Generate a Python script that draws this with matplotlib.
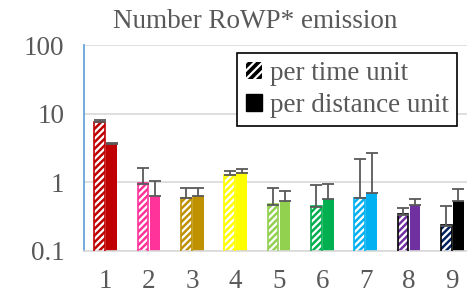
import matplotlib
matplotlib.use("Agg")
import matplotlib.pyplot as plt
from matplotlib.patches import Patch
import numpy as np

categories = ["1", "2", "3", "4", "5", "6", "7", "8", "9"]
per_time = [7.6, 0.96, 0.59, 1.28, 0.47, 0.44, 0.59, 0.34, 0.23]
per_time_top = [8.1, 1.62, 0.84, 1.46, 0.83, 0.90, 2.17, 0.43, 0.45]
per_dist = [3.67, 0.63, 0.63, 1.39, 0.53, 0.565, 0.69, 0.46, 0.53]
per_dist_top = [3.8, 1.03, 0.84, 1.58, 0.75, 0.935, 2.71, 0.58, 0.79]
colors = ["#C00000", "#FF3399", "#BF9000", "#FFFF00", "#92D050",
          "#00B050", "#00B0F0", "#7030A0", "#000000"]
stripe_colors = colors[:8] + ["#002060"]
edge_colors = colors[:7] + ["#000000", "#000000"]

plt.rcParams["font.family"] = ["Liberation Serif", "DejaVu Serif"]
plt.rcParams["hatch.linewidth"] = 1.6
TXT = "#595959"
FS = 19.5

fig = plt.figure(figsize=(4.67, 2.95), dpi=100)
ax = fig.add_axes([84 / 467, 1 - 251 / 295, 390 / 467, 206 / 295])

x = np.arange(len(categories))
w = 0.25
off = 0.14

# hatched bars: coloured face with white stripes, then an outline
ax.bar(x - off, per_time, w, bottom=0.01, color=stripe_colors, edgecolor="white",
       hatch="/////", linewidth=0, zorder=2)
ax.bar(x - off, per_time, w, bottom=0.01, fill=False, edgecolor=edge_colors,
       linewidth=1.2, zorder=3)
ax.bar(x + off, per_dist, w, bottom=0.01, color=colors, linewidth=0, zorder=2)

err_t = [np.zeros(9), np.array(per_time_top) - np.array(per_time)]
err_d = [np.zeros(9), np.array(per_dist_top) - np.array(per_dist)]
ax.errorbar(x - off, per_time, yerr=err_t, fmt="none", ecolor=TXT,
            elinewidth=1.3, capsize=4, capthick=1.3, zorder=4)
ax.errorbar(x + off, per_dist, yerr=err_d, fmt="none", ecolor=TXT,
            elinewidth=1.3, capsize=4, capthick=1.3, zorder=4)

ax.set_yscale("log")
ax.set_ylim(0.1, 100)
ax.set_xlim(-0.5, 8.5)
ax.set_yticks([0.1, 1, 10, 100])
ax.set_yticklabels(["0.1", "1", "10", "100"])
ax.minorticks_off()
ax.set_xticks(x)
ax.set_xticklabels(categories)
ax.tick_params(length=0, labelsize=FS, colors=TXT)
ax.tick_params(axis="x", pad=13)
ax.tick_params(axis="y", pad=14)
ax.grid(axis="y", color="#D9D9D9", linewidth=1.2, zorder=0)
ax.set_axisbelow(True)
for s in ["top", "right"]:
    ax.spines[s].set_visible(False)
ax.spines["bottom"].set_color("#D9D9D9")
ax.spines["bottom"].set_linewidth(1.2)
ax.spines["left"].set_color("#5B9BD5")
ax.spines["left"].set_linewidth(1.2)

fig.text(255 / 467, 1 - 21 / 295, "Number RoWP* emission", ha="center",
         va="center", fontsize=FS, color=TXT)

handles = [Patch(facecolor="black", edgecolor="white", hatch="////", linewidth=0),
           Patch(facecolor="black", edgecolor="black")]
leg = ax.legend(handles, ["per time unit", "per distance unit"],
                loc="upper right", bbox_to_anchor=(457 / 467, 1 - 53 / 295),
                bbox_transform=fig.transFigure, fontsize=FS, labelcolor=TXT,
                fancybox=False, edgecolor="black", framealpha=1,
                handlelength=0.6, handleheight=0.6, handletextpad=0.3,
                borderpad=0.3, labelspacing=0.25, borderaxespad=0)
leg.get_frame().set_linewidth(1.2)

fig.savefig("out.png", dpi=100)
